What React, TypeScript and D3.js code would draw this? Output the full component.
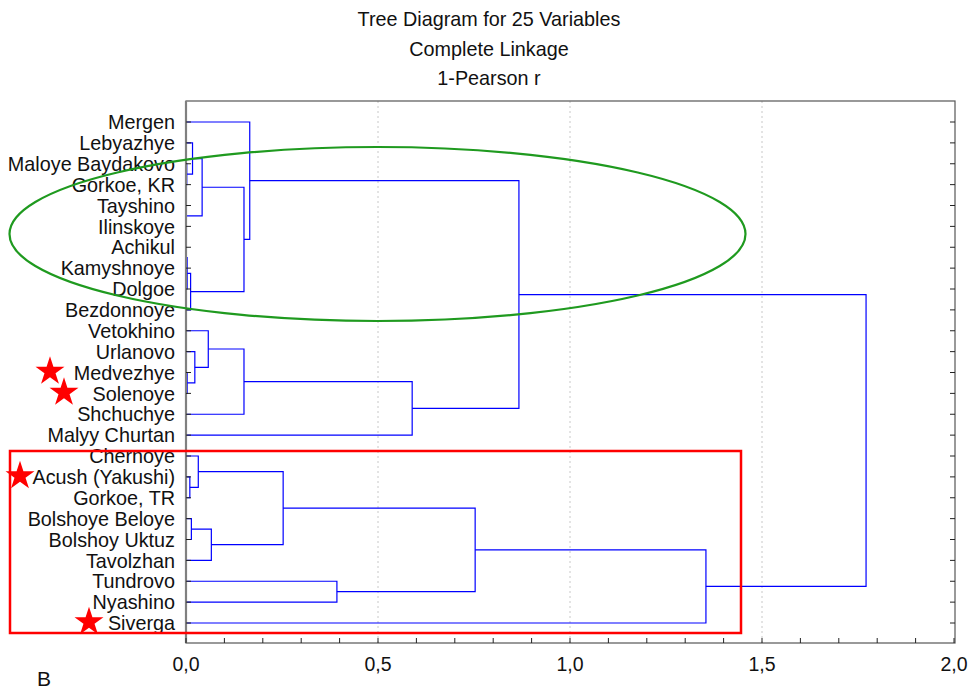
import { useRef, useEffect } from "react";
import * as d3 from "d3";

// leaf order, top to bottom
const leaves = [
  "Mergen",
  "Lebyazhye",
  "Maloye Baydakovo",
  "Gorkoe, KR",
  "Tayshino",
  "Ilinskoye",
  "Achikul",
  "Kamyshnoye",
  "Dolgoe",
  "Bezdonnoye",
  "Vetokhino",
  "Urlanovo",
  "Medvezhye",
  "Solenoye",
  "Shchuchye",
  "Malyy Churtan",
  "Chernoye",
  "Acush (Yakushi)",
  "Gorkoe, TR",
  "Bolshoye Beloye",
  "Bolshoy Uktuz",
  "Tavolzhan",
  "Tundrovo",
  "Nyashino",
  "Siverga",
];

// merges: [childA, childB, linkage distance]; ids >= 25 are earlier merges (25 + index)
const merges = [
  [2, 3, 0.002],
  [1, 25, 0.017],
  [4, 5, 0.001],
  [26, 27, 0.042],
  [6, 7, 0.001],
  [29, 8, 0.003],
  [30, 9, 0.012],
  [28, 31, 0.151],
  [0, 32, 0.166],
  [12, 13, 0.003],
  [11, 34, 0.023],
  [10, 35, 0.058],
  [36, 14, 0.151],
  [37, 15, 0.589],
  [33, 38, 0.867],
  [17, 18, 0.01],
  [16, 40, 0.032],
  [19, 20, 0.014],
  [42, 21, 0.066],
  [41, 43, 0.253],
  [22, 23, 0.393],
  [44, 45, 0.753],
  [46, 24, 1.354],
  [39, 47, 1.771],
];

const xTicks = [0, 0.5, 1, 1.5, 2];
const titleLines = ["Tree Diagram for 25 Variables", "Complete Linkage", "1-Pearson r"];
const starLeaves = ["Medvezhye", "Solenoye", "Acush (Yakushi)", "Siverga"];
const starOffsets = [50, 64, 20, 89];

function App() {
  const svgRef = useRef(null);

  useEffect(() => {
    const w = 971;
    const h = 694;
    const left = 186;
    const right = 955;
    const top = 101;
    const bottom = 643;
    const font = "'Liberation Sans', Arial, sans-serif";

    const svg = d3.select(svgRef.current).attr("width", w).attr("height", h);
    svg.selectAll("*").remove();

    const x = d3.scaleLinear().domain([0, 2]).range([left, left + 768]);
    const y = d3.scalePoint().domain(leaves).range([122, 623]);

    // title
    svg
      .selectAll(".title")
      .data(titleLines)
      .join("text")
      .attr("x", 489)
      .attr("y", (d, i) => 26 + i * 29.5)
      .attr("text-anchor", "middle")
      .attr("font-family", font)
      .attr("font-size", 19.8)
      .attr("fill", "#111")
      .text((d) => d);

    // grid
    svg
      .selectAll(".grid")
      .data([0.5, 1, 1.5])
      .join("line")
      .attr("x1", (d) => x(d))
      .attr("x2", (d) => x(d))
      .attr("y1", top)
      .attr("y2", bottom)
      .attr("stroke", "#c8c8c8")
      .attr("stroke-dasharray", "2,3");

    // tree
    const pos = leaves.map((name) => ({ y: y(name), hgt: 0 }));
    const g = svg.append("g").attr("stroke", "#0000ff").attr("fill", "none").attr("stroke-width", 1.2);
    merges.forEach(([a, b, d]) => {
      const pa = pos[a];
      const pb = pos[b];
      g.append("path").attr(
        "d",
        `M${x(pa.hgt)},${pa.y}H${x(d)}V${pb.y}H${x(pb.hgt)}`
      );
      pos.push({ y: (pa.y + pb.y) / 2, hgt: d });
    });

    // frame
    svg
      .append("rect")
      .attr("x", left)
      .attr("y", top)
      .attr("width", right - left)
      .attr("height", bottom - top)
      .attr("fill", "none")
      .attr("stroke", "#555")
      .attr("stroke-width", 1.2);
    svg
      .append("line")
      .attr("x1", left)
      .attr("x2", left)
      .attr("y1", top)
      .attr("y2", bottom)
      .attr("stroke", "#808080")
      .attr("stroke-width", 2.2);

    // leaf ticks + labels
    svg
      .selectAll(".ltick")
      .data(leaves)
      .join("line")
      .attr("x1", left)
      .attr("x2", left + 5)
      .attr("y1", (d) => y(d))
      .attr("y2", (d) => y(d))
      .attr("stroke", "#222");
    svg
      .selectAll(".rtick")
      .data(leaves)
      .join("line")
      .attr("x1", right - 5)
      .attr("x2", right)
      .attr("y1", (d) => y(d))
      .attr("y2", (d) => y(d))
      .attr("stroke", "#222");
    svg
      .selectAll(".label")
      .data(leaves)
      .join("text")
      .attr("x", 175)
      .attr("y", (d) => y(d))
      .attr("dy", "0.36em")
      .attr("text-anchor", "end")
      .attr("font-family", font)
      .attr("font-size", 19.8)
      .attr("fill", "#111")
      .text((d) => d);

    // x axis
    svg
      .selectAll(".xtick")
      .data(d3.range(0, 21).map((i) => i / 10))
      .join("line")
      .attr("x1", (d) => x(d))
      .attr("x2", (d) => x(d))
      .attr("y1", bottom)
      .attr("y2", bottom - 5)
      .attr("stroke", "#222");
    svg
      .selectAll(".xlabel")
      .data(xTicks)
      .join("text")
      .attr("x", (d) => x(d))
      .attr("y", 664)
      .attr("dy", "0.36em")
      .attr("text-anchor", "middle")
      .attr("font-family", font)
      .attr("font-size", 19.5)
      .attr("fill", "#111")
      .text((d) => d3.format(".1f")(d).replace(".", ","));

    // annotations
    svg
      .append("ellipse")
      .attr("cx", 377.5)
      .attr("cy", 234)
      .attr("rx", 368)
      .attr("ry", 87)
      .attr("fill", "none")
      .attr("stroke", "#1f9a1f")
      .attr("stroke-width", 2.2);
    svg
      .append("rect")
      .attr("x", 10)
      .attr("y", 451)
      .attr("width", 731)
      .attr("height", 182)
      .attr("fill", "none")
      .attr("stroke", "#ff0000")
      .attr("stroke-width", 2.5);

    const star = d3.symbol().type(d3.symbolStar).size(260);
    svg
      .selectAll(".star")
      .data(starLeaves)
      .join("path")
      .attr("d", star)
      .attr("transform", (d, i) => `translate(${starOffsets[i]},${y(d) - 1})`)
      .attr("fill", "#ff0000");

    svg
      .append("text")
      .attr("x", 37)
      .attr("y", 686)
      .attr("font-family", font)
      .attr("font-size", 21)
      .attr("fill", "#111")
      .text("B");
  }, []);

  return (
    <svg
      ref={svgRef}
      style={{ position: "absolute", left: 0, top: 0, background: "#fff" }}
    ></svg>
  );
}

export default App;
